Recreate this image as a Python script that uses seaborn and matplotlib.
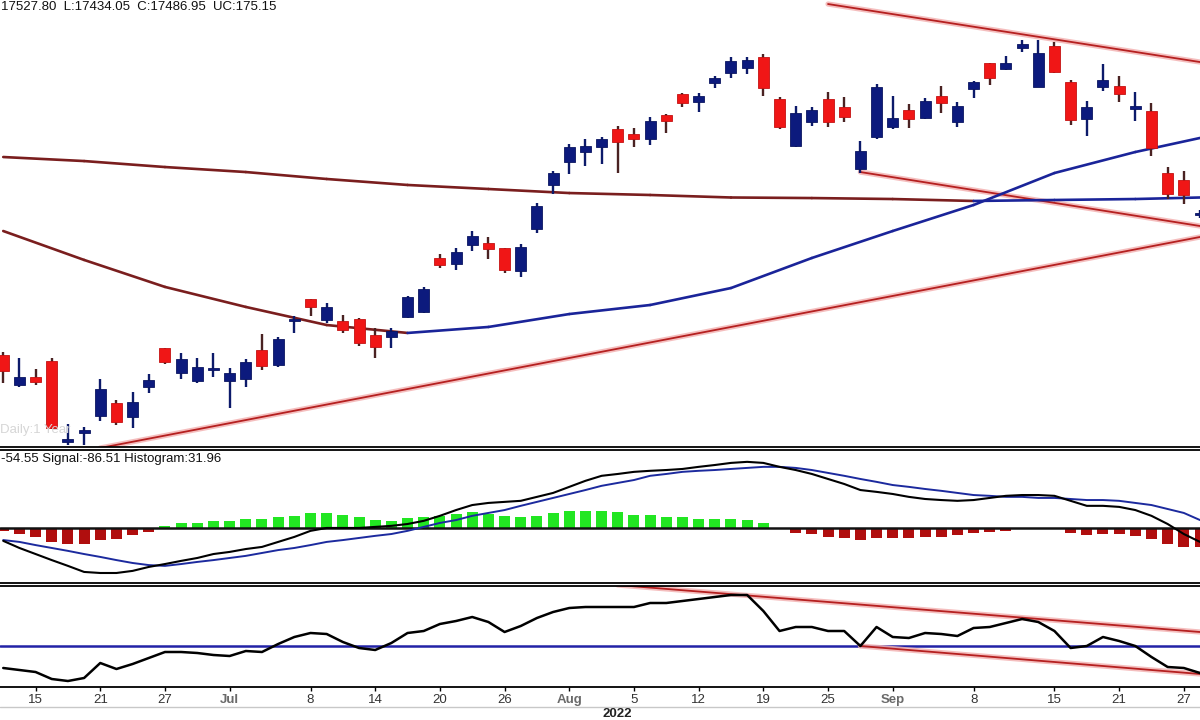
import numpy as np
import pandas as pd
import matplotlib
matplotlib.use("Agg")
import matplotlib.pyplot as plt
from matplotlib.lines import Line2D
import seaborn as sns

# ---------------- data ----------------
dates = ["2022-06-13","2022-06-14","2022-06-15","2022-06-16","2022-06-17","2022-06-20","2022-06-21","2022-06-22","2022-06-23","2022-06-24",
         "2022-06-27","2022-06-28","2022-06-29","2022-06-30","2022-07-01","2022-07-04","2022-07-05","2022-07-06","2022-07-07","2022-07-08",
         "2022-07-11","2022-07-12","2022-07-13","2022-07-14","2022-07-15","2022-07-18","2022-07-19","2022-07-20","2022-07-21","2022-07-22",
         "2022-07-25","2022-07-26","2022-07-27","2022-07-28","2022-07-29","2022-08-01","2022-08-02","2022-08-03","2022-08-04","2022-08-05",
         "2022-08-08","2022-08-10","2022-08-11","2022-08-12","2022-08-16","2022-08-17","2022-08-18","2022-08-19","2022-08-22","2022-08-23",
         "2022-08-24","2022-08-25","2022-08-26","2022-08-29","2022-08-30","2022-09-01","2022-09-02","2022-09-05","2022-09-06","2022-09-07",
         "2022-09-08","2022-09-09","2022-09-12","2022-09-13","2022-09-14","2022-09-15","2022-09-16","2022-09-19","2022-09-20","2022-09-21",
         "2022-09-22","2022-09-23","2022-09-26","2022-09-27","2022-09-28"]

open_ = [15831,15615,15672,15787,15205,15270,15392,15485,15385,15600,
         15881,15701,15644,15723,15644,15658,15867,15759,16075,16233,
         16082,16075,16089,15974,15960,16104,16140,16528,16485,16621,
         16636,16600,16435,16737,17053,17218,17290,17326,17455,17419,
         17384,17556,17707,17650,17786,17858,17894,17973,17671,17333,
         17506,17671,17614,17168,17398,17470,17592,17535,17693,17506,
         17743,17930,17887,18038,17758,18052,17793,17527,17758,17765,
         17599,17585,17139,17089,16837]
high = [15852,15809,15730,15809,15334,15313,15658,15507,15565,15694,
        15881,15845,15809,15845,15737,15802,15982,15960,16111,16233,
        16204,16118,16097,16025,16025,16255,16320,16557,16600,16722,
        16679,16600,16629,16923,17153,17348,17384,17398,17477,17463,
        17542,17563,17714,17714,17837,17973,17973,17995,17686,17621,
        17614,17722,17686,17369,17779,17693,17635,17678,17765,17650,
        17801,17930,17980,18095,18095,18081,17808,17657,17923,17837,
        17722,17642,17182,17153,16873]
low = [15629,15600,15615,15298,15183,15183,15356,15327,15306,15557,
       15766,15658,15629,15672,15450,15600,15723,15744,15989,16111,
       16061,15989,15895,15809,15881,16097,16133,16456,16442,16578,
       16521,16420,16391,16708,16988,17132,17189,17204,17139,17326,
       17340,17427,17614,17578,17750,17822,17851,17693,17455,17326,
       17477,17470,17506,17139,17384,17455,17463,17527,17571,17470,
       17678,17772,17880,18009,17758,17858,17484,17405,17729,17650,
       17513,17261,16952,16916,16816]
close = [15716,15672,15636,15306,15227,15291,15586,15349,15493,15651,
         15780,15802,15744,15730,15701,15780,15751,15946,16082,16176,
         16176,16010,15917,15888,16003,16248,16305,16478,16571,16686,
         16593,16442,16607,16902,17139,17326,17333,17384,17362,17384,
         17513,17513,17642,17693,17822,17944,17952,17750,17470,17571,
         17592,17506,17542,17297,17758,17535,17527,17657,17642,17621,
         17793,17822,17930,18067,18002,17865,17520,17614,17808,17707,
         17621,17319,16988,16981,16844]

# moving averages read at every 5th session
ma_idx = [0,5,10,15,20,25,30,35,40,45,50,55,60,65,70,74]
ma_short = [16722,16514,16320,16176,16046,15989,16032,16125,16190,16312,16528,16722,16909,17139,17290,17391]
ma_long = [17254,17225,17182,17146,17096,17053,17024,16995,16981,16963,16959,16952,16938,16945,16952,16963]

# trendlines (session index, value)
tl_support_idx, tl_support_val = [6,74], [15162,16679]
tl_upper_idx, tl_upper_val = [51,74], [18354,17937]
tl_lower_idx, tl_lower_val = [53,74], [17146,16758]
rsi_upper_idx, rsi_upper_val = [38,74], [80.5,57.0]
rsi_lower_idx, rsi_lower_val = [53,74], [50.0,36.0]

macd = [-49,-76,-99,-122,-144,-167,-171,-171,-163,-148,
        -137,-125,-114,-99,-91,-80,-72,-53,-34,-11,
        0,0,0,4,8,15,27,46,68,87,
        95,99,103,118,133,156,179,198,205,213,
        217,220,224,232,239,247,251,247,232,220,
        205,186,167,144,137,129,118,110,106,103,
        106,114,122,125,125,122,103,84,84,80,
        68,46,15,-23,-53]
signal = [-46,-53,-65,-76,-87,-99,-110,-122,-133,-141,
          -144,-137,-129,-122,-114,-106,-95,-84,-76,-65,
          -53,-46,-38,-30,-23,-11,4,19,30,46,
          57,68,84,99,114,129,144,160,171,182,
          198,205,213,217,220,224,228,232,232,228,
          220,209,198,186,175,163,156,148,141,133,
          125,122,118,118,114,114,110,106,106,103,
          95,87,72,57,30]
hist = [-11,-23,-34,-53,-61,-61,-46,-42,-27,-15,
        8,19,19,27,27,34,34,42,46,57,
        57,49,42,30,27,38,42,46,53,61,
        53,46,42,46,57,65,65,65,61,49,
        49,42,42,34,34,34,30,19,-2,-19,
        -23,-34,-38,-46,-38,-38,-38,-34,-34,-27,
        -19,-15,-11,-3,-1,-3,-19,-27,-23,-23,
        -30,-42,-61,-72,-72]
rsi = [39,38,37,33.5,32.5,34,41.5,38.5,41,44,
       47,47,46.5,45.5,45,47.5,47,51,54.5,56.5,
       56,52,49,48,51.5,56.5,57.5,61,62.5,64.5,
       62,57,60,64,67,69,69.5,69.5,69.5,69.5,
       71.5,71.5,72.5,73.5,74.5,75.5,75.5,67.5,57.5,59.5,
       59.5,57.5,57.5,50,59.5,54.5,54,56.5,56,55,
       59,59.5,61.5,63.5,62,57.5,49,50,54.5,52.5,
       50,44.5,39.5,39,36.5]

tick_dates = ["2022-06-15","2022-06-21","2022-06-27","2022-07-01","2022-07-08","2022-07-14","2022-07-20","2022-07-26","2022-08-01",
              "2022-08-05","2022-08-12","2022-08-19","2022-08-25","2022-09-01","2022-09-08","2022-09-15","2022-09-21","2022-09-27"]
tick_labels = ["15","21","27","Jul","8","14","20","26","Aug","5","12","19","25","Sep","8","15","21","27"]

header_text = "17527.80  L:17434.05  C:17486.95  UC:175.15"
macd_text = "-54.55 Signal:-86.51 Histogram:31.96"

# ---------------- style ----------------
sns.set_style("white")
plt.rcParams['font.family'] = ['Liberation Sans', 'DejaVu Sans']

W, H = 1200, 720
fig = plt.figure(figsize=(12, 7.2), dpi=100)
fig.patch.set_facecolor("white")

def box(top, bottom):
    return [0, 1 - bottom / H, 1, (bottom - top) / H]

ax1 = fig.add_axes(box(0, 447))
ax2 = fig.add_axes(box(450, 583))
ax3 = fig.add_axes(box(586, 687))

df = pd.DataFrame({"date": dates, "open": open_, "high": high, "low": low, "close": close,
                   "macd": macd, "signal": signal, "hist": hist, "rsi": rsi})
df["x"] = np.arange(len(df))
pos = {d: i for i, d in enumerate(dates)}

for ax in (ax1, ax2, ax3):
    ax.set_xlim(-0.2, 74.0)
    ax.set_facecolor("white")
    ax.set_yticks([])
    for s in ("left", "right"):
        ax.spines[s].set_visible(False)
    for s in ("top", "bottom"):
        ax.spines[s].set_color("black")
        ax.spines[s].set_linewidth(1.3)
ax1.spines["top"].set_visible(False)

RED_LINE = "#b52020"
GLOW = "#f3b3b3"
UP_MA = "#1a2499"
DN_MA = "#7a1e1e"

def trend(ax, xs, ys):
    sns.lineplot(x=xs, y=ys, ax=ax, color=GLOW, linewidth=3.8, alpha=0.85, zorder=1.5)
    sns.lineplot(x=xs, y=ys, ax=ax, color=RED_LINE, linewidth=1.3, zorder=1.6)

def slope_line(ax, xs, ys, lw):
    for k in range(len(xs) - 1):
        col = UP_MA if ys[k + 1] >= ys[k] else DN_MA
        ax.plot(xs[k:k + 2], ys[k:k + 2], color=col, linewidth=lw, solid_capstyle="round", zorder=1.8)

# ---------------- main price panel ----------------
ax1.set_ylim(15169, 18383)
slope_line(ax1, ma_idx, ma_long, 1.9)
slope_line(ax1, ma_idx, ma_short, 1.9)
trend(ax1, tl_support_idx, tl_support_val)
trend(ax1, tl_upper_idx, tl_upper_val)
trend(ax1, tl_lower_idx, tl_lower_val)

o = df["open"].to_numpy(float); c = df["close"].to_numpy(float)
up = c >= o
rng = 18383 - 15169
min_h = rng / 447 * 2.0
body_b = np.minimum(o, c)
body_h = np.maximum(np.abs(c - o), min_h)
body_col = np.where(up, "#0c1a7d", "#f01616")
edge_col = np.where(up, "#0a1560", "#c41212")
wick_col = np.where(up, "#0c1a6a", "#4a2222")
ax1.vlines(df["x"], df["low"], df["high"], colors=wick_col, linewidth=1.7, zorder=2.5)
ax1.bar(df["x"], body_h, bottom=body_b, width=0.68, color=body_col, edgecolor=edge_col,
        linewidth=0.6, zorder=3)
ax1.set_xticks([])

# ---------------- MACD panel ----------------
ax2.set_ylim(-209, 296)
hcol = np.where(df["hist"] >= 0, "#22e622", "#b00e0e")
ax2.bar(df["x"], df["hist"], width=0.68, color=hcol, edgecolor="none", zorder=2)
ax2.axhline(0, color="#111111", linewidth=1.8, zorder=2.5)
sns.lineplot(data=df, x="x", y="signal", ax=ax2, color="#1c2a9e", linewidth=1.4, zorder=3)
sns.lineplot(data=df, x="x", y="macd", ax=ax2, color="black", linewidth=1.5, zorder=3.2)
ax2.set_xticks([])

# ---------------- RSI panel ----------------
ax3.set_ylim(29.5, 80)
ax3.axhline(50, color="#2222a6", linewidth=1.8, zorder=1)
trend(ax3, rsi_upper_idx, rsi_upper_val)
trend(ax3, rsi_lower_idx, rsi_lower_val)
sns.lineplot(data=df, x="x", y="rsi", ax=ax3, color="black", linewidth=1.8, zorder=3)
ax3.set_xticks([pos[d] for d in tick_dates])
ax3.set_xticklabels(tick_labels)
ax3.tick_params(axis="x", length=3, width=1, color="black", labelsize=9.5, pad=2,
                labelcolor="#333333", bottom=True)
for lbl in ax3.get_xticklabels():
    if lbl.get_text() in ("Jul", "Aug", "Sep"):
        lbl.set_fontweight("bold")
        lbl.set_color("#6a6a6a")

for ax in (ax1, ax2, ax3):
    ax.set_ylabel(""); ax.set_xlabel("")

# ---------------- texts ----------------
fig.text(0.001, 1 - 1 / H, header_text, fontsize=9.5, color="#111111", va="top", ha="left")
fig.text(0.0, 1 - 430 / H, "Daily:1 Year", fontsize=9.5, color="#d6d6d6", va="center", ha="left", zorder=0)
fig.text(0.001, 1 - 459 / H, macd_text, fontsize=9.5, color="#111111", va="center", ha="left")
fig.text(617 / W, 1 - 714 / H, "2022", fontsize=9.5, fontweight="bold", color="#222222",
         va="center", ha="center")
fig.add_artist(Line2D([0, 1], [1 - 707 / H, 1 - 707 / H], color="#c8c8c8", linewidth=1))

fig.savefig("out.png", dpi=100)
